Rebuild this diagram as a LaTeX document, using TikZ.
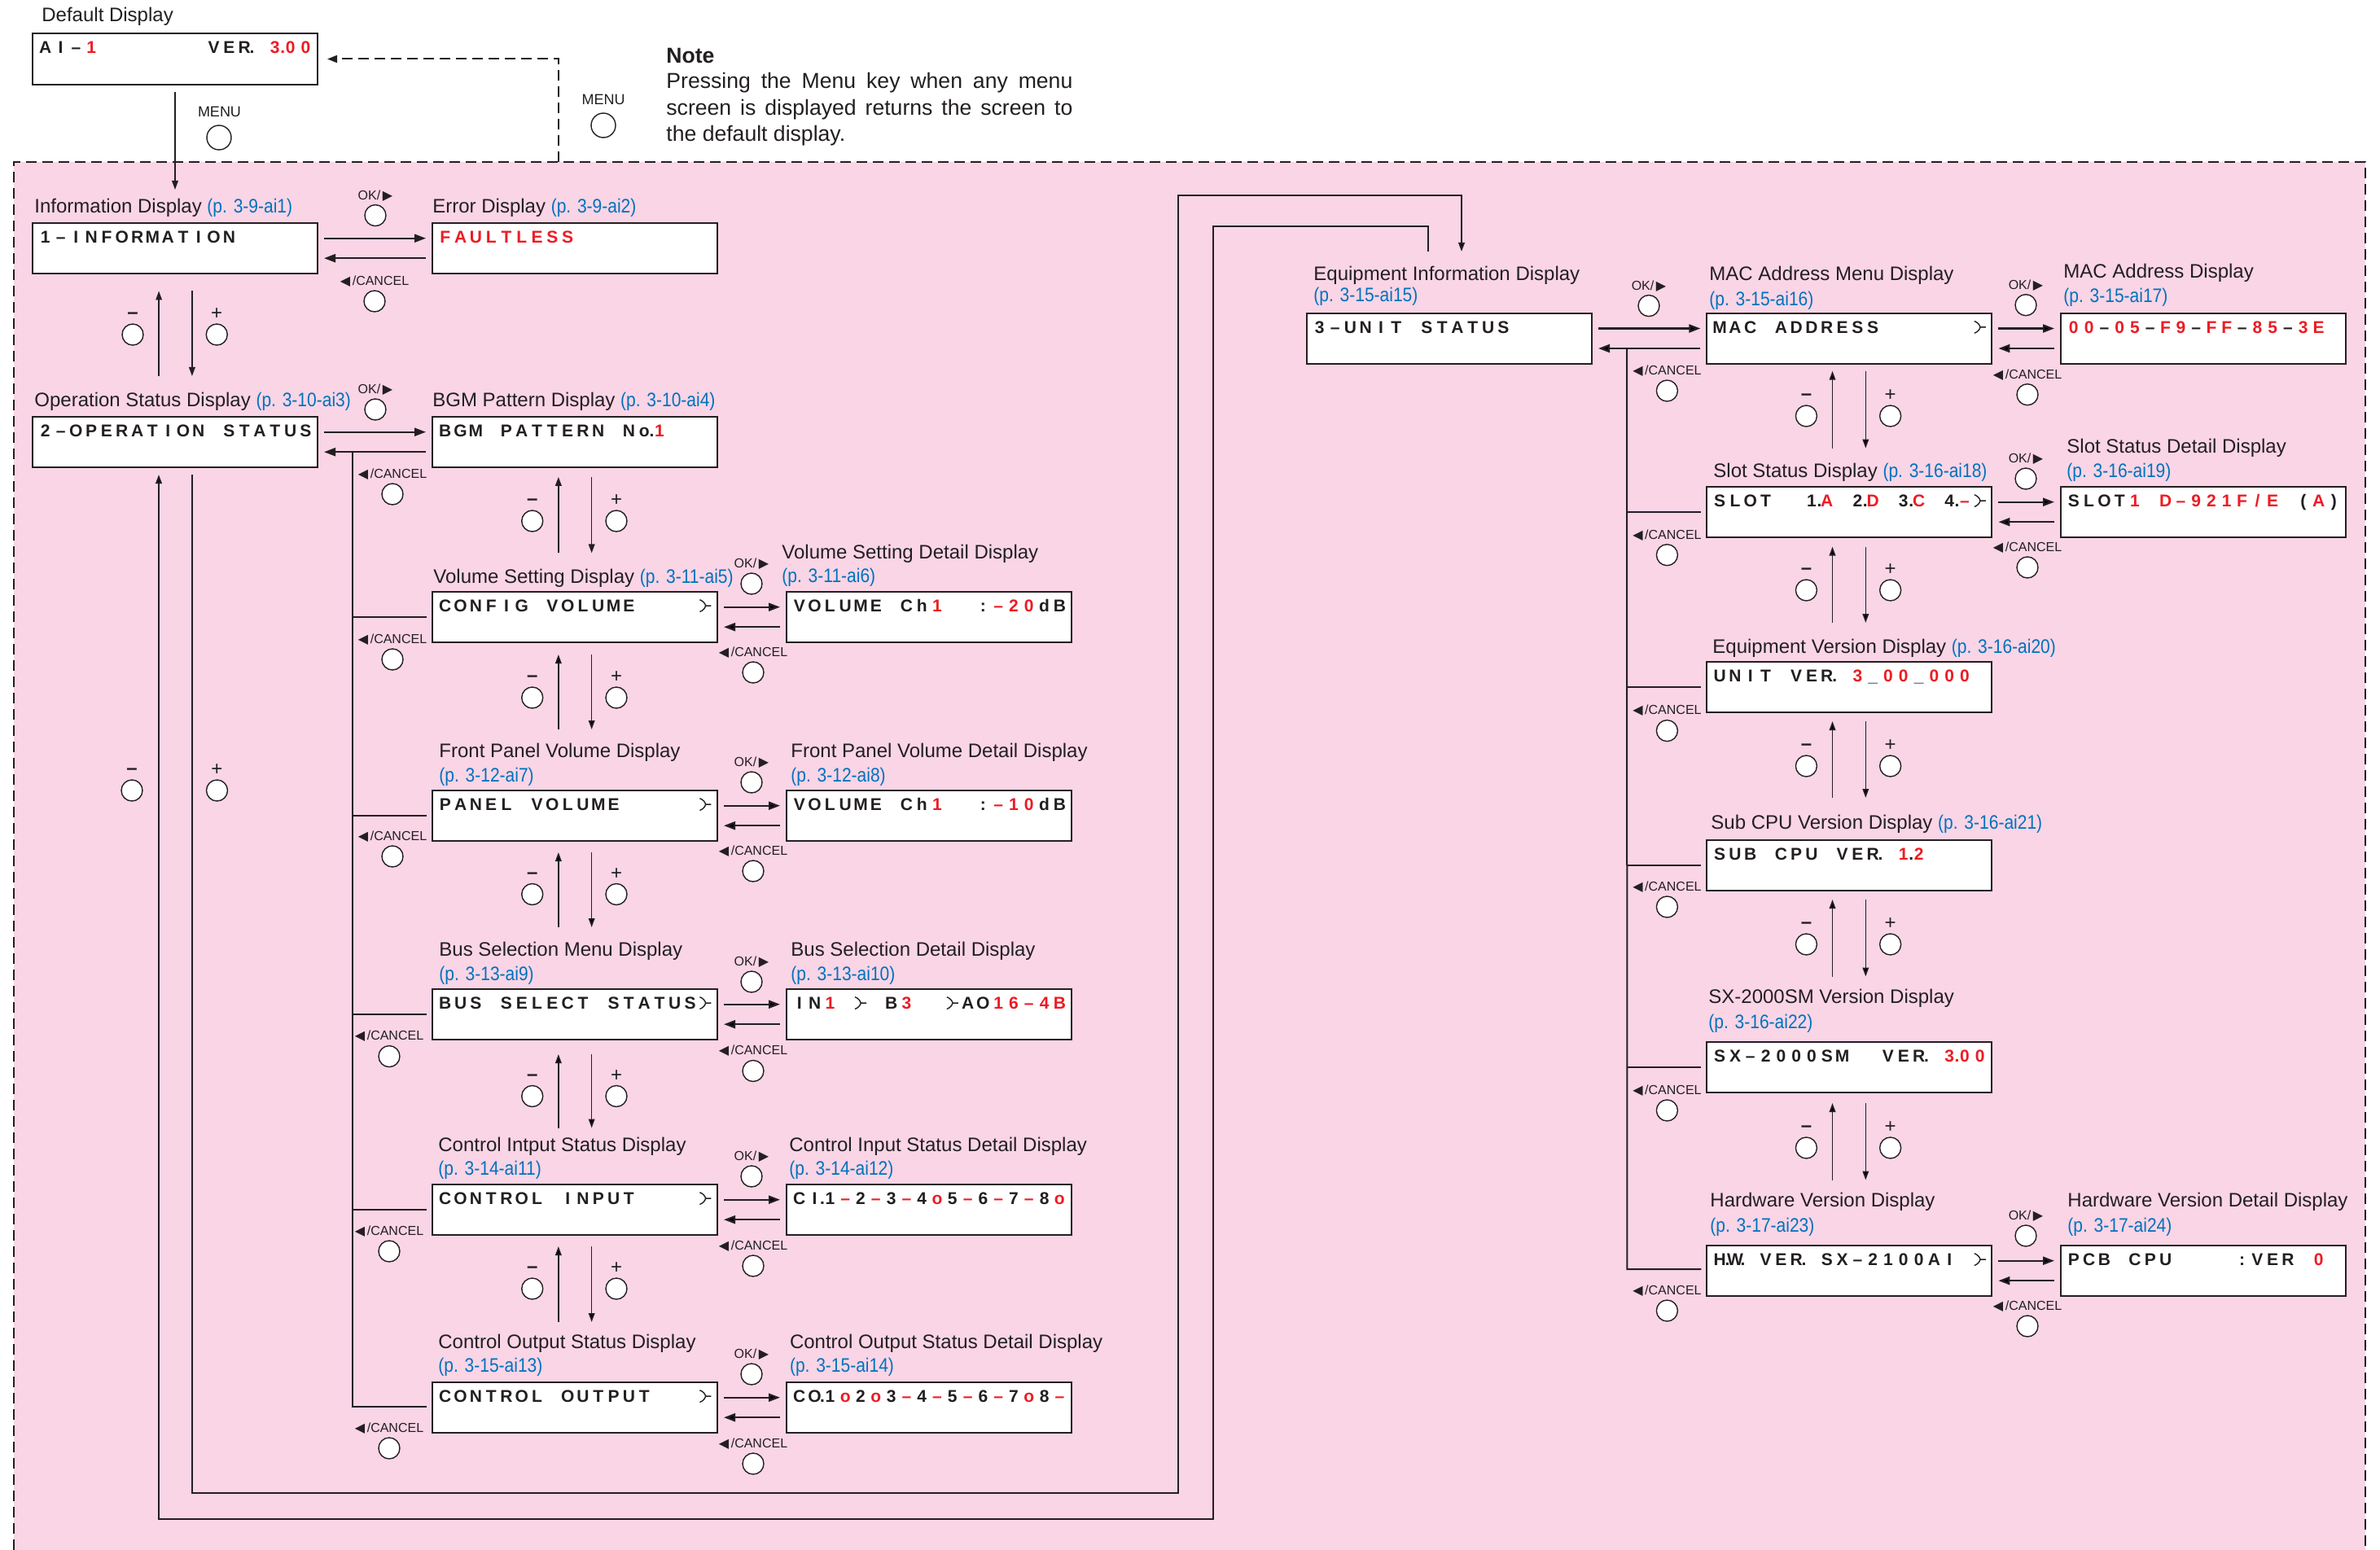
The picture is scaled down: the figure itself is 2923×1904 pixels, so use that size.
\documentclass[tikz,border=0pt]{standalone}
\usepackage{fontspec}
\setmainfont{Liberation Sans}
\newfontfamily\dvsym{DejaVu Sans}
\newfontfamily\reffont[FakeStretch=0.875]{Liberation Sans}
\usetikzlibrary{arrows.meta,calc}
\definecolor{pinkbg}{RGB}{249,213,230}
\definecolor{lcdred}{RGB}{236,28,36}
\definecolor{refblue}{RGB}{0,114,188}
\definecolor{ink}{RGB}{35,31,32}
\newlength\cellw \setlength\cellw{9.4pt}
\makeatletter
\def\lcdcol{}
\def\R{\color{lcdred}}
\def\K{\color{ink}}
\def\dt{.}\def\rdt{.}
\def\lcd@stopmark{\lcd@stop}
\def\lcd@dotmark{\dt}
\def\lcd@rdotmark{\rdt}
\def\lcd#1{\lcd@loop#1\lcd@stop}
\def\lcd@loop#1{\def\lcd@tmp{#1}\ifx\lcd@tmp\lcd@stopmark\else\lcd@cell{#1}\expandafter\lcd@loop\fi}
\def\lcd@cell#1{\ifx\lcd@tmp\lcd@dotmark\makebox[0pt][c]{\color{ink}.}\else\ifx\lcd@tmp\lcd@rdotmark\makebox[0pt][c]{\color{lcdred}.}\else\makebox[\cellw][c]{\lcdcol#1}\fi\fi}
\def\lcdr#1{{\def\lcdcol{\color{lcdred}}\lcd{#1}}}
\makeatother
\newcommand\lcdarr{\tikz[baseline=0pt,x=1pt,y=1pt]\draw[ink,line width=0.7pt] (0.4,7.4) .. controls (2.6,6.6) and (3.7,5.0) .. (4.0,3.7) .. controls (3.7,2.4) and (2.6,0.8) .. (0.4,0.0) (4.0,3.7) -- (7.4,3.7);}
\newcommand\pref[1]{{\reffont\textcolor{refblue}{#1}}}
\newcommand\hpair[2]{%
 \draw[harr] ($(#1.north east)+(8,18.7)$) -- ($(#2.north west)+(-8,18.7)$);
 \draw[harr] ($(#2.north west)+(-8,43.2)$) -- ($(#1.north east)+(8,43.2)$);}
\newcommand\vpair[5]{%
 \draw[varr] (#2-20.4,#4) -- (#2-20.4,#3);
 \draw[varr] (#2+20.4,#3) -- (#2+20.4,#4);
 \node[pmsym] (#1mt) at (#2-52.5,#5-23) {\textbf{–}};
 \node[btn] (#1m) at (#2-52.5,#5) {};
 \node[pmsym] (#1pt) at (#2+50.75,#5-25) {+};
 \node[btn] (#1p) at (#2+50.75,#5) {};}
\newcommand\okb[3]{%
 \node[btnlab] (#1t) at (#2,#3-24) {OK/\,{\dvsym ▶}};
 \node[btn] (#1) at (#2,#3) {};}
\newcommand\cnb[3]{%
 \node[btnlab] (#1t) at (#2,#3-24.5) {{\dvsym ◀}\,/CANCEL};
 \node[btn] (#1) at (#2,#3) {};}
\begin{document}
\begin{tikzpicture}[x=0.5pt,y=-0.5pt,
 lab/.style={inner sep=0pt, anchor=base west, font=\fontsize{12}{14}\selectfont, text=ink},
 lcdbox/.style={draw=ink, line width=1pt, fill=white, minimum width=175pt, minimum height=31pt, inner sep=0pt, outer sep=0pt, anchor=north west},
 lcdtext/.style={inner sep=0pt, anchor=base west, font=\fontsize{10.5}{12}\selectfont\bfseries, text=ink},
 btn/.style={circle, draw=ink, line width=0.7pt, fill=white, minimum size=13pt, inner sep=0pt},
 btnlab/.style={inner sep=0pt, font=\fontsize{8}{9}\selectfont, text=ink},
 pmsym/.style={inner sep=0pt, font=\fontsize{12}{14}\selectfont, text=ink},
 menut/.style={inner sep=0pt, font=\fontsize{9}{10}\selectfont, text=ink},
 harr/.style={draw=ink, line width=1.1pt, -{Triangle[length=7pt,width=5pt]}},
 varr/.style={draw=ink, line width=0.8pt, -{Triangle[length=5.5pt,width=3.8pt]}},
 wire/.style={draw=ink, line width=1pt},
 dashb/.style={draw=ink, line width=1pt, dash pattern=on 6.5pt off 3.5pt}]
\useasboundingbox (0,0) rectangle (2923,1904);
\fill[white] (0,0) rectangle (2923,1904);
\fill[pinkbg] (17,199) rectangle (2905,1904);
\draw[dashb] (17,1904) -- (17,199) -- (2905,199) -- (2905,1904);

% ---------- default display and note
\node[lab] (deflab) at (51,27) {Default Display};
\node[lcdbox, minimum height=31.5pt] (def) at (40,41) {};
\node[lcdtext] (deft) at ($(def.north west)+(6,24.5)$) {\lcd{AI–{\R1}~~~~~~~VER\dt~{\R3}\rdt{\R0}{\R0}}};
\node[menut] (menu1t) at (269.5,137) {MENU};
\node[btn, minimum size=15pt] (menu1) at (269,169) {};
\coordinate (menutip) at (215,233);
\draw[varr] ($(def.south)+(0,9)$) -- (menutip);
\node[menut] (menu2t) at (741,122) {MENU};
\node[btn, minimum size=15pt] (menu2) at (741,154) {};
\coordinate (menuret) at (686,199);
\draw[dashb, -{Triangle[length=6pt,width=4.5pt]}] (menuret) |- ($(def.east)+(12,0)$);
\node[inner sep=0pt, anchor=base west, font=\fontsize{13.3}{16}\selectfont\bfseries, text=ink] (note) at (818,78) {Note};
\node[inner sep=0pt, anchor=base west, font=\fontsize{13.3}{16}\selectfont, text=ink] (note1) at (818,109) {\makebox[249.5pt][s]{Pressing the Menu key when any menu}};
\node[inner sep=0pt, anchor=base west, font=\fontsize{13.3}{16}\selectfont, text=ink] (note2) at (818,141.6) {\makebox[249.5pt][s]{screen is displayed returns the screen to}};
\node[inner sep=0pt, anchor=base west, font=\fontsize{13.3}{16}\selectfont, text=ink] (note3) at (818,174) {the default display.};

% ---------- information / error
\node[lab] (infolab) at (42,262) {Information Display \pref{(p. 3-9-ai1)}};
\node[lcdbox] (info) at (40,274) {};
\node[lcdtext] (infot) at ($(info.north west)+(6,24.5)$) {\lcd{1–INFORMATION}};
\node[lab] (errlab) at (531,262) {Error Display \pref{(p. 3-9-ai2)}};
\node[lcdbox] (err) at (531,274) {};
\node[lcdtext] (errt) at ($(err.north west)+(6,24.5)$) {\lcdr{FAULTLESS}};
\hpair{info}{err}
\okb{ok1}{461}{264.6}
\cnb{cn1}{460}{370}
\vpair{v1}{215.5}{357.5}{462}{411}

% ---------- operation status / bgm
\node[lab] (oplab) at (42,500) {Operation Status Display \pref{(p. 3-10-ai3)}};
\node[lcdbox] (op) at (40,512) {};
\node[lcdtext] (opt) at ($(op.north west)+(6,24.5)$) {\lcd{2–OPERATION~STATUS}};
\node[lab] (bgmlab) at (531,500) {BGM Pattern Display \pref{(p. 3-10-ai4)}};
\node[lcdbox] (bgm) at (531,512) {};
\node[lcdtext] (bgmt) at ($(bgm.north west)+(6,24.5)$) {\lcd{BGM~PATTERN~No\dt{\R1}}};
\hpair{op}{bgm}
\okb{ok2}{461}{503}
\cnb{cn2}{482}{607}
\node[pmsym] (lmt) at (162,948) {\textbf{–}};
\node[btn] (lm) at (162,971) {};
\node[pmsym] (lpt) at (266.5,946) {+};
\node[btn] (lp) at (266.5,971) {};

% ---------- sub column
\vpair{v2}{706.25}{585.8}{679.4}{640}
\node[lab] (vollab) at (532,716) {Volume Setting Display \pref{(p. 3-11-ai5)}};
\node[lcdbox] (vol) at (531,727) {};
\node[lcdtext] (volt) at ($(vol.north west)+(6,24.5)$) {\lcd{CONFIG~VOLUME~~~~\lcdarr}};
\node[lab] (vdlab) at (960,686) {Volume Setting Detail Display};
\node[lab] (vdlab2) at (960,715) {\pref{(p. 3-11-ai6)}};
\node[lcdbox] (vd) at (966,727) {};
\node[lcdtext] (vdt) at ($(vd.north west)+(6,24.5)$) {\lcd{VOLUME~Ch{\R1}~~:{\R–}{\R2}{\R0}dB}};
\hpair{vol}{vd}
\okb{ok3}{923}{717}
\cnb{cn3r}{925}{826}
\cnb{cn3l}{482}{810}

\vpair{v3}{706.25}{804}{896}{857}
\node[lab] (panlab) at (539,930) {Front Panel Volume Display};
\node[lab] (panlab2) at (539,960) {\pref{(p. 3-12-ai7)}};
\node[lcdbox] (pan) at (531,971) {};
\node[lcdtext] (pant) at ($(pan.north west)+(6,24.5)$) {\lcd{PANEL~VOLUME~~~~~\lcdarr}};
\node[lab] (pdlab) at (971,930) {Front Panel Volume Detail Display};
\node[lab] (pdlab2) at (971,960) {\pref{(p. 3-12-ai8)}};
\node[lcdbox] (pd) at (966,971) {};
\node[lcdtext] (pdt) at ($(pd.north west)+(6,24.5)$) {\lcd{VOLUME~Ch{\R1}~~:{\R–}{\R1}{\R0}dB}};
\hpair{pan}{pd}
\okb{ok4}{923}{961}
\cnb{cn4r}{925}{1070}
\cnb{cn4l}{482}{1052}

\vpair{v4}{706.25}{1047}{1139}{1098.5}
\node[lab] (buslab) at (539,1174) {Bus Selection Menu Display};
\node[lab] (buslab2) at (539,1204) {\pref{(p. 3-13-ai9)}};
\node[lcdbox] (bus) at (531,1215) {};
\node[lcdtext] (bust) at ($(bus.north west)+(6,24.5)$) {\lcd{BUS~SELECT~STATUS\lcdarr}};
\node[lab] (bdlab) at (971,1174) {Bus Selection Detail Display};
\node[lab] (bdlab2) at (971,1204) {\pref{(p. 3-13-ai10)}};
\node[lcdbox] (bd) at (966,1215) {};
\node[lcdtext] (bdt) at ($(bd.north west)+(6,24.5)$) {\lcd{IN{\R1}~\lcdarr~B{\R3}~~\lcdarr AO{\R1}{\R6}{\R–}{\R4}{\R B}}};
\hpair{bus}{bd}
\okb{ok5}{923}{1206}
\cnb{cn5r}{925}{1315.5}
\cnb{cn5l}{478}{1297.6}

\vpair{v5}{706.25}{1295}{1385.5}{1346.5}
\node[lab] (cilab) at (538,1414.6) {Control Intput Status Display};
\node[lab] (cilab2) at (538,1443) {\pref{(p. 3-14-ai11)}};
\node[lcdbox] (ci) at (531,1455) {};
\node[lcdtext] (cit) at ($(ci.north west)+(6,24.5)$) {\lcd{CONTROL~INPUT~~~~\lcdarr}};
\node[lab] (cdlab) at (969,1414.6) {Control Input Status Detail Display};
\node[lab] (cdlab2) at (969,1443) {\pref{(p. 3-14-ai12)}};
\node[lcdbox] (cd) at (966,1455) {};
\node[lcdtext] (cdt) at ($(cd.north west)+(6,24.5)$) {\lcd{CI\dt1{\R–}2{\R–}3{\R–}4{\R o}5{\R–}6{\R–}7{\R–}8{\R o}}};
\hpair{ci}{cd}
\okb{ok6}{923}{1445}
\cnb{cn6r}{925}{1555}
\cnb{cn6l}{478}{1537}

\vpair{v6}{706.25}{1531}{1624}{1583}
\node[lab] (colab) at (538,1656) {Control Output Status Display};
\node[lab] (colab2) at (538,1685) {\pref{(p. 3-15-ai13)}};
\node[lcdbox] (co) at (531,1698) {};
\node[lcdtext] (cot) at ($(co.north west)+(6,24.5)$) {\lcd{CONTROL~OUTPUT~~~\lcdarr}};
\node[lab] (odlab) at (969.6,1656) {Control Output Status Detail Display};
\node[lab] (odlab2) at (969.6,1685) {\pref{(p. 3-15-ai14)}};
\node[lcdbox] (od) at (966,1698) {};
\node[lcdtext] (odt) at ($(od.north west)+(6,24.5)$) {\lcd{CO\dt1{\R o}2{\R o}3{\R–}4{\R–}5{\R–}6{\R–}7{\R o}8{\R–}}};
\hpair{co}{od}
\okb{ok7}{923}{1688}
\cnb{cn7r}{925}{1798}
\cnb{cn7l}{478}{1779}

% branch of sub column
\draw[wire] ($(op.north east)+(43,43.2)$) -- ($(co.north west)+(-98,30)$) -- ($(co.north west)+(-7,30)$);
\foreach \b in {vol,pan,bus,ci}
  \draw[wire] ($(\b.north west)+(-98,30.5)$) -- ($(\b.north west)+(-7,30.5)$);

% ---------- loops between op status and equipment info
\coordinate (eqin) at (1795,309);
\coordinate (eqout) at (1754,309);
\draw[wire, -{Triangle[length=5.5pt,width=3.8pt]}] ($(op.south)+(20.5,9)$) -- (235.5,1834) -- (1447,1834) -- (1447,240) -- (1795,240) -- (eqin);
\draw[wire, -{Triangle[length=5.5pt,width=3.8pt]}] (eqout) -- (1754,278) -- (1490,278) -- (1490,1866) -- (195,1866) -- ($(op.south)+(-20,9)$);

% ---------- right part
\node[lab] (eqlab) at (1613,345) {Equipment Information Display};
\node[lab] (eqlab2) at (1613,370.5) {\pref{(p. 3-15-ai15)}};
\node[lcdbox] (eq) at (1605,384.8) {};
\node[lcdtext] (eqt) at ($(eq.north west)+(6,24.5)$) {\lcd{3–UNIT~STATUS}};
\node[lab] (maclab) at (2099,345) {MAC Address Menu Display};
\node[lab] (maclab2) at (2099,375.6) {\pref{(p. 3-15-ai16)}};
\node[lcdbox] (mac) at (2096.4,384.8) {};
\node[lcdtext] (mact) at ($(mac.north west)+(6,24.5)$) {\lcd{MAC~ADDRESS~~~~~~\lcdarr}};
\hpair{eq}{mac}
\okb{ok8}{2025}{375.6}
\cnb{cn8}{2047.4}{480}
\node[lab] (mdlab) at (2534,341.7) {MAC Address Display};
\node[lab] (mdlab2) at (2534,371.5) {\pref{(p. 3-15-ai17)}};
\node[lcdbox] (md) at (2531,384.8) {};
\node[lcdtext] (mdt) at ($(md.north west)+(6,24.5)$) {\lcdr{00{\K–}05{\K–}F9{\K–}FF{\K–}85{\K–}3E}};
\hpair{mac}{md}
\okb{ok9}{2488}{374.7}
\cnb{cn9}{2490}{484.7}

\vpair{r1}{2270.9}{455.7}{550.6}{511}
\node[lab] (slotlab) at (2104,586.3) {Slot Status Display \pref{(p. 3-16-ai18)}};
\node[lcdbox] (slot) at (2096.4,598) {};
\node[lcdtext] (slott) at ($(slot.north west)+(6,24.5)$) {\lcd{SLOT~~1\dt{\R A}~2\dt{\R D}~3\dt{\R C}~4\dt{\R–}\lcdarr}};
\node[lab] (sdlab) at (2538,556) {Slot Status Detail Display};
\node[lab] (sdlab2) at (2538,586) {\pref{(p. 3-16-ai19)}};
\node[lcdbox] (sd) at (2531,598) {};
\node[lcdtext] (sdt) at ($(sd.north west)+(6,24.5)$) {\lcd{SLOT{\R1}~{\R D}{\R–}{\R9}{\R2}{\R1}{\R F}{\R/}{\R E}~({\R A})}};
\hpair{slot}{sd}
\okb{ok10}{2488}{588}
\cnb{cn10}{2490}{697}
\cnb{cn11}{2047.4}{681.7}

\vpair{r2}{2270.9}{671.5}{765}{725}
\node[lab] (uvlab) at (2103,802.6) {Equipment Version Display \pref{(p. 3-16-ai20)}};
\node[lcdbox] (uv) at (2096.4,813) {};
\node[lcdtext] (uvt) at ($(uv.north west)+(6,24.5)$) {\lcd{UNIT~VER\dt~{\R3}\_{\R0}{\R0}\_{\R0}{\R0}{\R0}}};
\cnb{cn12}{2047.4}{897.6}

\vpair{r3}{2270.9}{886}{980}{941}
\node[lab] (sclab) at (2101,1018.4) {Sub CPU Version Display \pref{(p. 3-16-ai21)}};
\node[lcdbox] (sc) at (2096.4,1031.6) {};
\node[lcdtext] (sct) at ($(sc.north west)+(6,24.5)$) {\lcd{SUB~CPU~VER\dt~{\R1}\dt{\R2}}};
\cnb{cn13}{2047.4}{1114}

\vpair{r4}{2270.9}{1105}{1199.5}{1160}
\node[lab] (sxlab) at (2098,1232.6) {SX-2000SM Version Display};
\node[lab] (sxlab2) at (2098,1263) {\pref{(p. 3-16-ai22)}};
\node[lcdbox] (sx) at (2096.4,1279.6) {};
\node[lcdtext] (sxt) at ($(sx.north west)+(6,24.5)$) {\lcd{SX–2000SM~~VER\dt~{\R3}\rdt{\R0}{\R0}}};
\cnb{cn14}{2047.4}{1364}

\vpair{r5}{2270.9}{1355}{1449.5}{1410}
\node[lab] (hwlab) at (2100,1482.7) {Hardware Version Display};
\node[lab] (hwlab2) at (2100,1513) {\pref{(p. 3-17-ai23)}};
\node[lcdbox] (hw) at (2096.4,1530) {};
\node[lcdtext] (hwt) at ($(hw.north west)+(6,24.5)$) {\lcd{H\dt W\dt~VER\dt~SX–2100AI~\lcdarr}};
\cnb{cn15}{2047.4}{1610}
\node[lab] (hdlab) at (2539,1482.7) {Hardware Version Detail Display};
\node[lab] (hdlab2) at (2539,1513) {\pref{(p. 3-17-ai24)}};
\node[lcdbox] (hd) at (2531,1530) {};
\node[lcdtext] (hdt) at ($(hd.north west)+(6,24.5)$) {\lcd{PCB~CPU~~~~:VER~{\R0}}};
\hpair{hw}{hd}
\okb{ok16}{2488}{1518}
\cnb{cn16}{2490}{1629}

% branch of right column
\draw[wire] ($(eq.north east)+(43,43.2)$) -- ($(hw.north west)+(-98,29)$) -- ($(hw.north west)+(-7,29)$);
\foreach \b in {slot,uv,sc,sx}
  \draw[wire] ($(\b.north west)+(-98,31)$) -- ($(\b.north west)+(-7,31)$);
\end{tikzpicture}
\end{document}
